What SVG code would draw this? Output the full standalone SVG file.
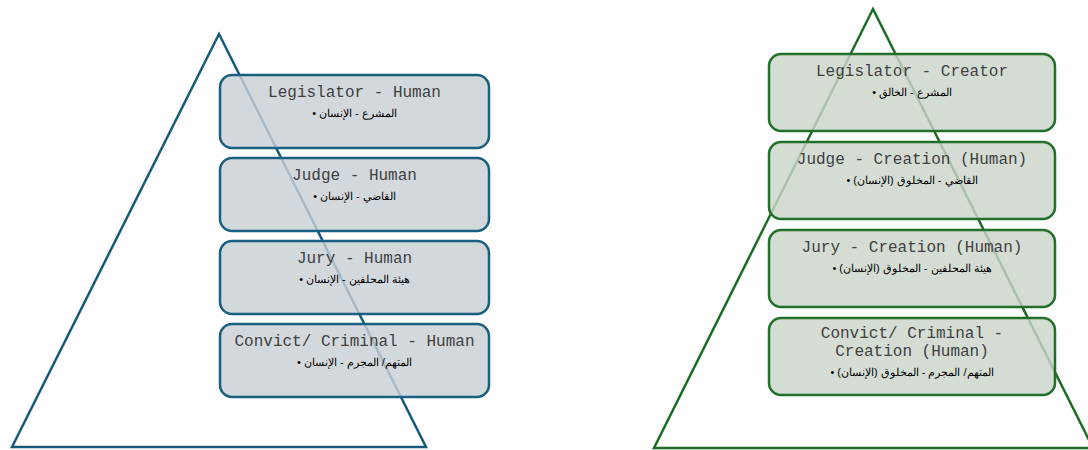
<svg xmlns="http://www.w3.org/2000/svg" width="1088" height="450" viewBox="0 0 1088 450">
<style>
.tri{fill:none;stroke-width:2.5;stroke-linejoin:miter}
.bl{fill:#c9cfd5;fill-opacity:0.82;stroke:#1a5e80;stroke-width:2.5}
.bg{fill:#cbd4cb;fill-opacity:0.82;stroke:#216f2a;stroke-width:2.5}
.t{font-family:"Liberation Mono","Courier New",monospace;font-size:16px;fill:#404040;text-anchor:middle}
.a{font-family:"Liberation Sans",Arial,sans-serif;font-size:11px;fill:#000;text-anchor:middle}
</style>
<rect width="1088" height="450" fill="#fff"/>
<g id="connectors">
<polygon class="tri" points="219,34 12,447 426,447" stroke="#175a7c"/>
<polygon class="tri" points="873,9 654,448 1093,448" stroke="#1e6b26"/>
</g>
<g id="left-legislator">
<rect class="bl" x="220" y="75" width="269" height="73" rx="12"/>
<text class="t" x="354.5" y="97">Legislator - Human</text>
<text class="a" x="354.5" y="117" direction="rtl">المشرع - الإنسان •</text>
</g>
<g id="left-judge">
<rect class="bl" x="220" y="158" width="269" height="73" rx="12"/>
<text class="t" x="354.5" y="180">Judge - Human</text>
<text class="a" x="354.5" y="200" direction="rtl">القاضي - الإنسان •</text>
</g>
<g id="left-jury">
<rect class="bl" x="220" y="241" width="269" height="73" rx="12"/>
<text class="t" x="354.5" y="263">Jury - Human</text>
<text class="a" x="354.5" y="283" direction="rtl">هيئة المحلفين - الإنسان •</text>
</g>
<g id="left-convict">
<rect class="bl" x="220" y="324" width="269" height="73" rx="12"/>
<text class="t" x="354.5" y="346">Convict/ Criminal - Human</text>
<text class="a" x="354.5" y="366" direction="rtl">المتهم/ المجرم - الإنسان •</text>
</g>
<g id="right-legislator">
<rect class="bg" x="769" y="54" width="286" height="77" rx="12"/>
<text class="t" x="912" y="76">Legislator - Creator</text>
<text class="a" x="912" y="96" direction="rtl">المشرع - الخالق •</text>
</g>
<g id="right-judge">
<rect class="bg" x="769" y="142" width="286" height="77" rx="12"/>
<text class="t" x="912" y="164">Judge - Creation (Human)</text>
<text class="a" x="912" y="184" direction="rtl">القاضي - المخلوق (الإنسان) •</text>
</g>
<g id="right-jury">
<rect class="bg" x="769" y="230" width="286" height="77" rx="12"/>
<text class="t" x="912" y="252">Jury - Creation (Human)</text>
<text class="a" x="912" y="272" direction="rtl">هيئة المحلفين - المخلوق (الإنسان) •</text>
</g>
<g id="right-convict">
<rect class="bg" x="769" y="318" width="286" height="77" rx="12"/>
<text class="t" x="912" y="338">Convict/ Criminal -</text>
<text class="t" x="912" y="356">Creation (Human)</text>
<text class="a" x="912" y="376" direction="rtl">المتهم/ المجرم - المخلوق (الإنسان) •</text>
</g>
</svg>
